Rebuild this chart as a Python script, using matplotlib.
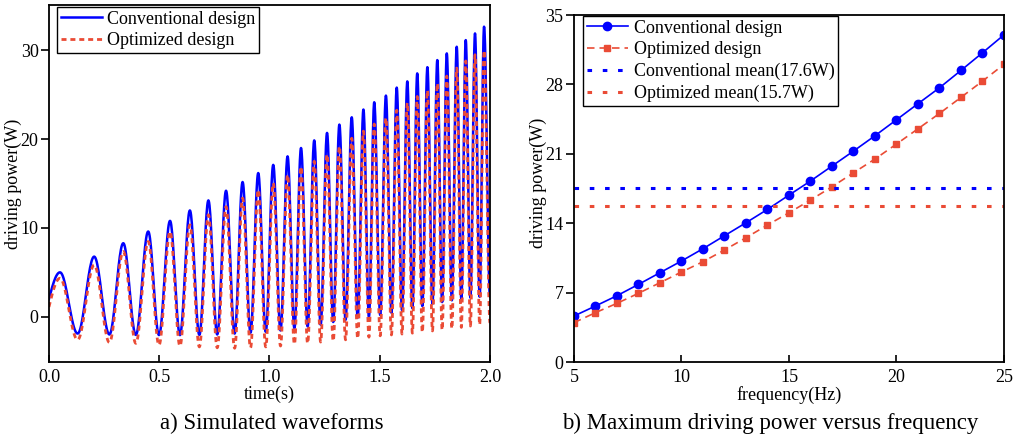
import numpy as np
import matplotlib
matplotlib.use('Agg')
import matplotlib.pyplot as plt

plt.rcParams['font.family'] = ['Liberation Serif', 'DejaVu Serif']

##################################################
# a) Simulated waveforms (peaks / troughs read off the figure)
##################################################

conv_start = 2.0
opt_start = 1.1

peak_t = [0.050, 0.205, 0.337, 0.450, 0.549, 0.639, 0.723, 0.803, 0.878, 0.949,
          1.017, 1.082, 1.143, 1.203, 1.261, 1.317, 1.373, 1.426, 1.475, 1.528,
          1.577, 1.625, 1.670, 1.716, 1.761, 1.804, 1.849, 1.890, 1.932, 1.973]
trough_t = [0.130, 0.274, 0.394, 0.499, 0.594, 0.682, 0.763, 0.842, 0.914, 0.983,
            1.050, 1.113, 1.173, 1.232, 1.289, 1.345, 1.400, 1.451, 1.502, 1.553,
            1.601, 1.648, 1.693, 1.739, 1.783, 1.827, 1.870, 1.911, 1.953, 2.000]

conv_peaks = [5.0, 6.77, 8.28, 9.6, 10.8, 11.97, 13.1, 14.19, 15.17, 16.18,
              17.1, 18.06, 19.0, 19.86, 20.7, 21.64, 22.46, 23.33, 24.15, 24.9,
              25.8, 26.5, 27.4, 28.1, 28.9, 29.65, 30.4, 31.15, 31.9, 32.66]
conv_troughs = [-1.9, -2.0, -2.05, -2.07, -2.07, -2.05, -2.0, -1.9, -1.8, -1.7,
                -1.55, -1.3, -1.1, -0.9, -0.6, -0.35, -0.1, 0.0, 0.2, 0.45,
                0.75, 0.95, 1.2, 1.45, 1.65, 1.85, 2.0, 2.15, 2.25, 2.3]

opt_peaks = [4.33, 5.83, 7.34, 8.47, 9.6, 10.35, 11.48, 12.4, 13.36, 14.3,
             15.05, 16.0, 16.9, 17.5, 18.3, 19.2, 20.1, 20.9, 21.7, 22.4,
             23.25, 24.1, 24.8, 25.5, 26.3, 27.1, 28.0, 28.8, 29.5, 30.0]
opt_troughs = [-2.6, -2.9, -3.0, -3.2, -3.3, -3.4, -3.5, -3.55, -3.5, -3.4,
               -3.3, -3.1, -3.0, -2.85, -2.75, -2.6, -2.45, -2.3, -2.15, -2.05,
               -1.95, -1.85, -1.75, -1.6, -1.5, -1.35, -1.2, -1.05, -0.9, -0.7]

##################################################
# b) Maximum driving power versus frequency
##################################################

freq = [5, 6, 7, 8, 9, 10, 11, 12, 13, 14, 15, 16, 17, 18, 19, 20, 21, 22, 23, 24, 25]
conv_max = [4.64, 5.65, 6.69, 7.83, 9.01, 10.19, 11.43, 12.74, 14.05, 15.4, 16.84,
            18.26, 19.77, 21.28, 22.83, 24.44, 26.06, 27.67, 29.42, 31.2, 33.01]
opt_max = [3.97, 4.98, 5.92, 6.93, 8.0, 9.08, 10.12, 11.3, 12.54, 13.82, 15.06,
           16.34, 17.68, 19.09, 20.48, 21.99, 23.53, 25.08, 26.7, 28.34, 30.03]
conv_mean = 17.6
opt_mean = 15.7

BLUE = '#0000FF'
RED = '#EA4B35'


# smooth half-cosine segments between the read extrema
def wave(v0, peaks, troughs):
    ts = [0.0]
    vs = [v0]
    for tp, vp, tt, vt in zip(peak_t, peaks, trough_t, troughs):
        ts += [tp, tt]
        vs += [vp, vt]
    xx, yy = [], []
    s = np.linspace(0, 1, 25)
    for i in range(len(ts) - 1):
        if i == 0:
            shape = np.sin(np.pi * s / 2)
        else:
            shape = (1 - np.cos(np.pi * s)) / 2
        xx.append(ts[i] + s * (ts[i + 1] - ts[i]))
        yy.append(vs[i] + (vs[i + 1] - vs[i]) * shape)
    return np.concatenate(xx), np.concatenate(yy)


fig = plt.figure(figsize=(10.2, 4.38), dpi=100)
ax1 = fig.add_axes([0.048, 0.1735, 0.4324, 0.815])
ax2 = fig.add_axes([0.5627, 0.1735, 0.4216, 0.792])

###############################
# left panel
###############################
tc, vc = wave(conv_start, conv_peaks, conv_troughs)
to, vo = wave(opt_start, opt_peaks, opt_troughs)
ax1.plot(tc, vc, color=BLUE, lw=1.8, label='Conventional design')
ax1.plot(to, vo, color=RED, lw=2.0, ls=(0, (1.8, 1.4)), label='Optimized design')

ax1.set_xlim(0, 2.0)
ax1.set_ylim(-5.1, 35.1)
ax1.set_xticks([0, 0.5, 1.0, 1.5, 2.0])
ax1.set_xticklabels(['0.0', '0.5', '1.0', '1.5', '2.0'])
ax1.set_yticks([0, 10, 20, 30])
ax1.set_xlabel('time(s)', fontsize=13, labelpad=0)
ax1.set_ylabel('driving power(W)', fontsize=13)
ax1.yaxis.set_label_coords(-0.06, 0.5)
ax1.legend(loc='upper left', bbox_to_anchor=(0.018, 0.994), borderaxespad=0,
           fontsize=13, fancybox=False, edgecolor='black', framealpha=1,
           handlelength=2.3, handletextpad=0.3, labelspacing=0.25, borderpad=0.2)

###############################
# right panel
###############################
ax2.plot(freq, conv_max, color=BLUE, lw=1.2, marker='o', ms=6, label='Conventional design')
ax2.plot(freq, opt_max, color=RED, lw=1.2, ls=(0, (4.5, 3)), marker='s', ms=4.5,
         label='Optimized design')
ax2.plot([5, 25], [conv_mean, conv_mean], color=BLUE, lw=2.2, ls=(0, (1.5, 3.5)),
         label='Conventional mean(17.6W)')
ax2.plot([5, 25], [opt_mean, opt_mean], color=RED, lw=2.2, ls=(0, (1.5, 3.5)),
         label='Optimized mean(15.7W)')

ax2.set_xlim(5, 25)
ax2.set_ylim(0, 35)
ax2.set_xticks([5, 10, 15, 20, 25])
ax2.set_yticks([0, 7, 14, 21, 28, 35])
ax2.set_xlabel('frequency(Hz)', fontsize=13, labelpad=0)
ax2.set_ylabel('driving power(W)', fontsize=13)
ax2.yaxis.set_label_coords(-0.063, 0.516)
ax2.legend(loc='upper left', bbox_to_anchor=(0.021, 0.997), borderaxespad=0,
           fontsize=13, fancybox=False, edgecolor='black', framealpha=1,
           handlelength=2.3, handletextpad=0.3, labelspacing=0.25, borderpad=0.2)

for ax in (ax1, ax2):
    for sp in ax.spines.values():
        sp.set_linewidth(1.3)
    ax.tick_params(axis='x', direction='in', length=5, width=1.2, labelsize=13, pad=5)
    ax.tick_params(axis='y', direction='out', length=6, width=1.2, labelsize=13, pad=1.5)

fig.text(0.266, 0.034, 'a) Simulated waveforms', ha='center', va='center', fontsize=16.5)
fig.text(0.755, 0.034, 'b) Maximum driving power versus frequency', ha='center',
         va='center', fontsize=16.5)

fig.savefig('out.png', dpi=100)
